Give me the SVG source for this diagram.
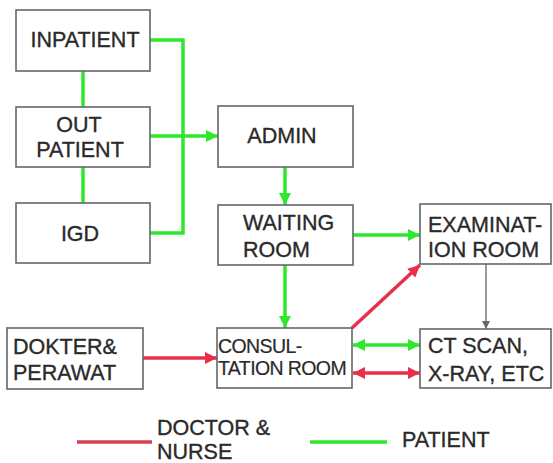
<svg xmlns="http://www.w3.org/2000/svg" width="553" height="463" viewBox="0 0 553 463">
<style>
.box{fill:#fff;stroke:#666;stroke-width:1.6}
.t{font-family:"Liberation Sans",Arial,sans-serif;font-size:21.5px;fill:#2a2a2a;stroke:#2a2a2a;stroke-width:0.35}
.c{text-anchor:middle}
.g{stroke:#2ee82e;stroke-width:3.5;fill:none}
.r{stroke:#e8304a;stroke-width:3.5;fill:none}
.k{stroke:#666;stroke-width:1.3;fill:none}
</style>
<defs>
<marker id="ag" markerUnits="userSpaceOnUse" markerWidth="12" markerHeight="12" refX="10" refY="5" orient="auto-start-reverse" viewBox="0 0 10 10"><path d="M0,0 L10,5 L0,10 z" fill="#2ee82e"/></marker>
<marker id="ar" markerUnits="userSpaceOnUse" markerWidth="12" markerHeight="12" refX="10" refY="5" orient="auto-start-reverse" viewBox="0 0 10 10"><path d="M0,0 L10,5 L0,10 z" fill="#e8304a"/></marker>
<marker id="ak" markerUnits="userSpaceOnUse" markerWidth="8" markerHeight="8" refX="10" refY="5" orient="auto" viewBox="0 0 10 10"><path d="M0,0 L10,5 L0,10 z" fill="#666"/></marker>
</defs>
<rect width="553" height="463" fill="#fff"/>
<g id="connectors">
<line class="g" x1="83" y1="71" x2="83" y2="107"/>
<line class="g" x1="83" y1="167" x2="83" y2="203"/>
<polyline class="g" points="150,40 183,40 183,233 150,233"/>
<line class="g" x1="150" y1="136" x2="218" y2="136" marker-end="url(#ag)"/>
<line class="g" x1="285" y1="167" x2="285" y2="205" marker-end="url(#ag)"/>
<line class="g" x1="353" y1="235" x2="420" y2="235" marker-end="url(#ag)"/>
<line class="g" x1="285" y1="265" x2="285" y2="328" marker-end="url(#ag)"/>
<line class="r" x1="143" y1="358" x2="217" y2="358" marker-end="url(#ar)"/>
<line class="r" x1="352" y1="328" x2="420" y2="265" marker-end="url(#ar)"/>
<line class="k" x1="486" y1="264" x2="486" y2="329" marker-end="url(#ak)"/>
<line class="g" x1="353" y1="345" x2="420" y2="345" marker-start="url(#ag)" marker-end="url(#ag)"/>
<line class="r" x1="353" y1="373" x2="420" y2="373" marker-start="url(#ar)" marker-end="url(#ar)"/>
</g>
<g id="inpatient"><rect class="box" x="16" y="10" width="134" height="61"/><text class="t c" x="85" y="47">INPATIENT</text></g>
<g id="outpatient"><rect class="box" x="16" y="107" width="134" height="60"/><text class="t c" x="79" y="132">OUT</text><text class="t c" x="80" y="157">PATIENT</text></g>
<g id="igd"><rect class="box" x="16" y="203" width="134" height="60"/><text class="t c" x="80" y="241">IGD</text></g>
<g id="admin"><rect class="box" x="218" y="106" width="135" height="61"/><text class="t c" x="282" y="143">ADMIN</text></g>
<g id="waiting"><rect class="box" x="218" y="205" width="135" height="60"/><text class="t" x="243" y="230">WAITING</text><text class="t" x="243" y="257">ROOM</text></g>
<g id="examination"><rect class="box" x="420" y="204" width="131" height="60"/><text class="t" x="428" y="232">EXAMINAT-</text><text class="t" x="428" y="257">ION ROOM</text></g>
<g id="dokter"><rect class="box" x="7" y="328" width="136" height="61"/><text class="t" x="13" y="354">DOKTER&amp;</text><text class="t" x="13" y="380">PERAWAT</text></g>
<g id="consultation"><rect class="box" x="217" y="328" width="135" height="60"/><text class="t" x="218" y="353" style="font-size:19.5px;letter-spacing:-0.6px;stroke-width:0.2">CONSUL-</text><text class="t" x="218" y="375" style="font-size:19.5px;letter-spacing:-0.6px;stroke-width:0.2">TATION ROOM</text></g>
<g id="ctscan"><rect class="box" x="420" y="329" width="131" height="59"/><text class="t" x="428" y="353">CT SCAN,</text><text class="t" x="428" y="381">X-RAY, ETC</text></g>
<g id="legend">
<line x1="77" y1="442" x2="152" y2="442" stroke="#d8404e" stroke-width="3.5"/>
<text class="t" x="157" y="435">DOCTOR &amp;</text>
<text class="t" x="157" y="459">NURSE</text>
<line x1="310" y1="442" x2="387" y2="442" stroke="#2ee82e" stroke-width="3.5"/>
<text class="t" x="402" y="447">PATIENT</text>
</g>
</svg>
